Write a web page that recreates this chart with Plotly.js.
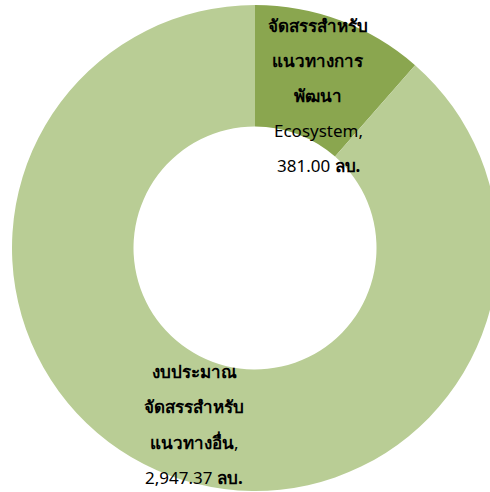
<!DOCTYPE html>
<html><head><meta charset="utf-8">
<script src="https://cdn.plot.ly/plotly-3.0.1.min.js"></script>
<style>html,body{margin:0;padding:0;background:#fff;overflow:hidden}</style>
</head><body>
<div id="chart" style="width:500px;height:492px"></div>
<script>
const categories = ["จัดสรรสำหรับแนวทางการพัฒนา Ecosystem", "งบประมาณจัดสรรสำหรับแนวทางอื่น"];
const values = [381.00, 2947.37];
const colors = ["#8aa64f", "#b9cd95"];
const labelLines = [
  ["จัดสรรสำหรับ", "แนวทางการ", "พัฒนา", "Ecosystem,", "381.00 ลบ."],
  ["งบประมาณ", "จัดสรรสำหรับ", "แนวทางอื่น,", "2,947.37 ลบ."]
];
const labelPos = [
  {x: 318, y0: 25, dy: 35.2},
  {x: 194, y0: 371, dy: 35.5}
];

const W = 500, H = 492, mL = 12, mR = 2, mT = 5, mB = 1;
const pw = W - mL - mR, ph = H - mT - mB;
const boldThai = s => s.replace(/([\u0E00-\u0E7F]+\.?)/g, '<b>$1</b>');
const annotations = [];
labelLines.forEach((lines, i) => {
  lines.forEach((t, j) => {
    const px = labelPos[i].x, py = labelPos[i].y0 + j * labelPos[i].dy;
    annotations.push({
      text: boldThai(t), showarrow: false, xref: 'paper', yref: 'paper',
      x: (px - mL) / pw, y: 1 - (py - mT) / ph,
      xanchor: 'center', yanchor: 'middle',
      font: {size: 17, color: '#000', family: 'Noto Sans, sans-serif'}
    });
  });
});

Plotly.newPlot('chart', [{
  type: 'pie', labels: categories, values: values, hole: 0.5,
  sort: false, direction: 'clockwise', rotation: 0,
  marker: {colors: colors, line: {width: 0}},
  textinfo: 'none', hoverinfo: 'label+value'
}], {
  width: W, height: H, margin: {l: mL, r: mR, t: mT, b: mB},
  showlegend: false, paper_bgcolor: '#fff', annotations: annotations
}, {displayModeBar: false, staticPlot: true});
</script>
</body></html>
